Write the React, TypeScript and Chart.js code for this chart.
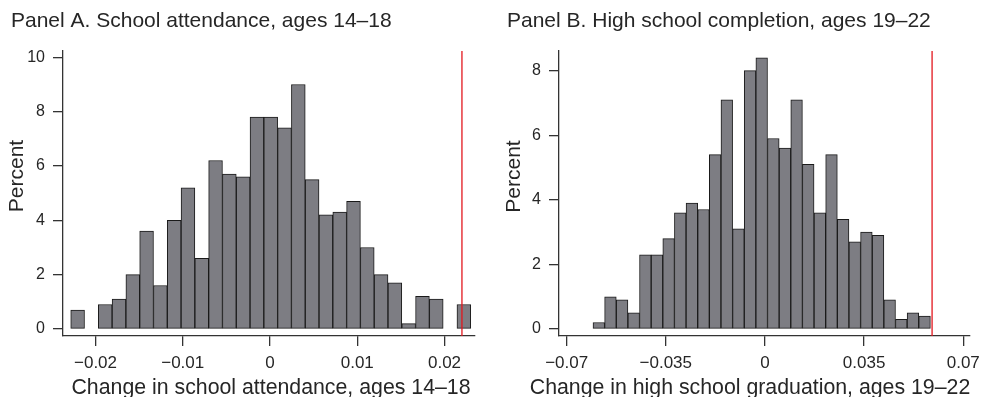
import React, { useEffect, useRef } from 'react';
import { Chart, registerables } from 'chart.js';

Chart.register(...registerables);

const FONT = '"Liberation Sans", Arial, Helvetica, sans-serif';
const TEXT = '#262626';
const AXIS = '#333333';
const BAR_FILL = '#7d7d83';
const BAR_EDGE = '#1a1a1a';
const RED = '#e3161d';

// ---------- Panel A: school attendance, ages 14–18 ----------
const panelTitleA = 'Panel A. School attendance, ages 14–18';
const xTitleA = 'Change in school attendance, ages 14–18';
const binStartA = -0.02284;
const binWidthA = 0.001581;
const percentA = [
  0.7, 0, 0.9, 1.1, 2.0, 3.6, 1.6, 4.0, 5.2, 2.6, 6.2, 5.7, 5.6, 7.8, 7.8,
  7.4, 9.0, 5.5, 4.2, 4.3, 4.7, 3.0, 2.0, 1.7, 0.2, 1.2, 1.1, 0, 0.9,
];
const xTickValuesA = [-0.02, -0.01, 0, 0.01, 0.02];
const xTickLabelsA = ['−0.02', '−0.01', '0', '0.01', '0.02'];
const yTickValuesA = [0, 2, 4, 6, 8, 10];
const yTickLabelsA = ['0', '2', '4', '6', '8', '10'];
const refLineA = 0.022;

// ---------- Panel B: high school completion, ages 19–22 ----------
const panelTitleB = 'Panel B. High school completion, ages 19–22';
const xTitleB = 'Change in high school graduation, ages 19–22';
const binStartB = -0.0607;
const binWidthB = 0.004107;
const percentB = [
  0.2, 1.0, 0.9, 0.5, 2.3, 2.3, 2.8, 3.6, 3.9, 3.7, 5.4, 7.1, 3.1, 8.0, 8.4,
  5.9, 5.6, 7.1, 5.1, 3.6, 5.4, 3.4, 2.7, 3.0, 2.9, 0.9, 0.3, 0.5, 0.4,
];
const xTickValuesB = [-0.07, -0.035, 0, 0.035, 0.07];
const xTickLabelsB = ['−0.07', '−0.035', '0', '0.035', '0.07'];
const yTickValuesB = [0, 2, 4, 6, 8];
const yTickLabelsB = ['0', '2', '4', '6', '8'];
const refLineB = 0.059;

const yTitle = 'Percent';

const overlayPlugin = {
  id: 'overlay',
  afterDatasetsDraw(chart: any, _args: any, opts: any) {
    const { ctx, chartArea, scales } = chart;
    const x = scales.x.getPixelForValue(opts.refLine);
    ctx.save();
    ctx.strokeStyle = RED;
    ctx.lineWidth = 1.3;
    ctx.beginPath();
    ctx.moveTo(x, chartArea.top);
    ctx.lineTo(x, chartArea.bottom);
    ctx.stroke();
    ctx.restore();
  },
  afterDraw(chart: any, _args: any, opts: any) {
    const { ctx } = chart;
    ctx.save();
    ctx.fillStyle = TEXT;
    ctx.font = `21px ${FONT}`;
    ctx.textBaseline = 'alphabetic';
    ctx.textAlign = 'left';
    ctx.fillText(opts.title.text, opts.title.x, opts.title.y);
    ctx.textAlign = 'center';
    ctx.font = `21.3px ${FONT}`;
    ctx.fillText(opts.xTitle.text, opts.xTitle.x, opts.xTitle.y);
    ctx.translate(opts.yTitle.x, opts.yTitle.y);
    ctx.rotate(-Math.PI / 2);
    ctx.textBaseline = 'middle';
    ctx.font = `21px ${FONT}`;
    ctx.fillText(opts.yTitle.text, 0, 0);
    ctx.restore();
  },
};

type PanelProps = {
  percent: number[];
  binStart: number;
  binWidth: number;
  xTicks: number[];
  xLabels: string[];
  yTicks: number[];
  yLabels: string[];
  xMin: number;
  xMax: number;
  yMin: number;
  yMax: number;
  refLine: number;
  width: number;
  yAxisWidth: number;
  padRight: number;
  title: { text: string; x: number; y: number };
  xTitle: { text: string; x: number; y: number };
  yTitleObj: { text: string; x: number; y: number };
};

function Panel(p: PanelProps) {
  const ref = useRef<HTMLCanvasElement | null>(null);
  useEffect(() => {
    if (!ref.current) return;
    const data = p.percent.map((v, i) => ({
      x: p.binStart + (i + 0.5) * p.binWidth,
      y: v === 0 ? null : v,
    }));
    const chart = new Chart(ref.current, {
      type: 'bar',
      data: {
        datasets: [
          {
            data: data as any,
            backgroundColor: BAR_FILL,
            borderColor: BAR_EDGE,
            borderWidth: 1,
            borderSkipped: false,
            barPercentage: 1,
            categoryPercentage: 1,
          },
        ],
      },
      plugins: [overlayPlugin],
      options: {
        animation: false,
        responsive: false,
        layout: { padding: { left: 0, right: p.padRight, top: 51, bottom: 0 } },
        plugins: {
          legend: { display: false },
          tooltip: { enabled: false },
          overlay: {
            refLine: p.refLine,
            title: p.title,
            xTitle: p.xTitle,
            yTitle: p.yTitleObj,
          },
        } as any,
        scales: {
          x: {
            type: 'linear',
            min: p.xMin,
            max: p.xMax,
            offset: false,
            grid: {
              offset: false,
              drawOnChartArea: false,
              drawTicks: true,
              tickLength: 10,
              color: AXIS,
              lineWidth: 1.3,
            },
            border: { display: true, color: AXIS, width: 1.3 },
            ticks: {
              autoSkip: false,
              maxRotation: 0,
              padding: 7,
              color: TEXT,
              font: { family: FONT, size: 17 },
              callback: (v: any) => p.xLabels[p.xTicks.indexOf(Number(v))] ?? '',
            },
            afterBuildTicks: (s: any) => {
              s.ticks = p.xTicks.map((v) => ({ value: v }));
            },
            afterFit: (s: any) => {
              s.height = 61;
            },
          },
          y: {
            type: 'linear',
            min: p.yMin,
            max: p.yMax,
            grid: {
              drawOnChartArea: false,
              drawTicks: true,
              tickLength: 10,
              color: AXIS,
              lineWidth: 1.3,
            },
            border: { display: true, color: AXIS, width: 1.3 },
            ticks: {
              autoSkip: false,
              padding: 8,
              color: TEXT,
              font: { family: FONT, size: 16 },
              callback: (v: any) => p.yLabels[p.yTicks.indexOf(Number(v))] ?? '',
            },
            afterBuildTicks: (s: any) => {
              s.ticks = p.yTicks.map((v) => ({ value: v }));
            },
            afterFit: (s: any) => {
              s.width = p.yAxisWidth;
            },
          },
        },
      },
    });
    return () => chart.destroy();
  }, []);
  return (
    <canvas
      ref={ref}
      width={p.width}
      height={397}
      style={{ width: p.width, height: 397, display: 'block' }}
    />
  );
}

export default function App() {
  return (
    <div
      style={{
        position: 'absolute',
        left: 0,
        top: 0,
        width: 987,
        height: 397,
        background: '#ffffff',
        display: 'flex',
      }}
    >
      <Panel
        percent={percentA}
        binStart={binStartA}
        binWidth={binWidthA}
        xTicks={xTickValuesA}
        xLabels={xTickLabelsA}
        yTicks={yTickValuesA}
        yLabels={yTickLabelsA}
        xMin={-0.023725}
        xMax={0.023496}
        yMin={-0.258}
        yMax={10.232}
        refLine={refLineA}
        width={493}
        yAxisWidth={63}
        padRight={18}
        title={{ text: panelTitleA, x: 11, y: 26.5 }}
        xTitle={{ text: xTitleA, x: 271, y: 394 }}
        yTitleObj={{ text: yTitle, x: 17.5, y: 176 }}
      />
      <Panel
        percent={percentB}
        binStart={binStartB}
        binWidth={binWidthB}
        xTicks={xTickValuesB}
        xLabels={xTickLabelsB}
        yTicks={yTickValuesB}
        yLabels={yTickLabelsB}
        xMin={-0.0727}
        xMax={0.07221}
        yMin={-0.2168}
        yMax={8.609}
        refLine={refLineB}
        width={494}
        yAxisWidth={66}
        padRight={14}
        title={{ text: panelTitleB, x: 14, y: 26.5 }}
        xTitle={{ text: xTitleB, x: 257, y: 394 }}
        yTitleObj={{ text: yTitle, x: 21, y: 176.5 }}
      />
    </div>
  );
}
